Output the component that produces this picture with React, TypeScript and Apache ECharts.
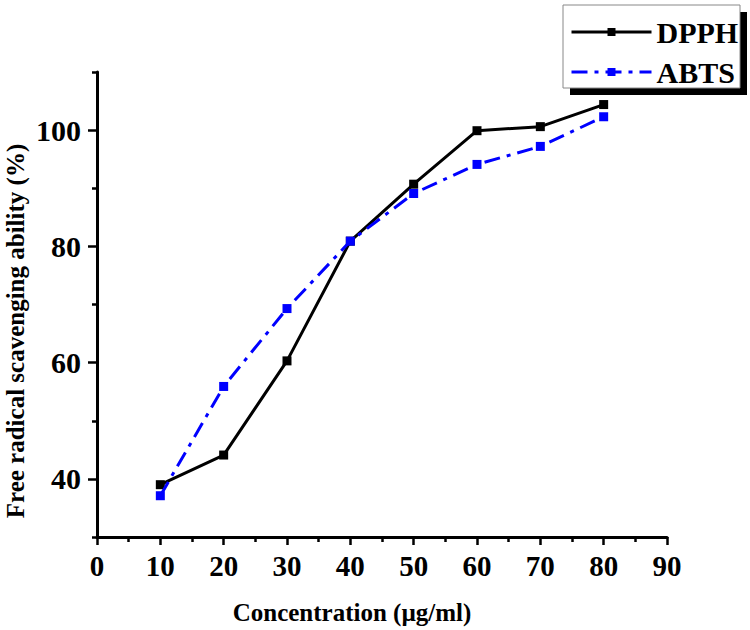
import React, { useEffect, useRef } from "react";
import * as echarts from "echarts";

const concentrations = [10, 20, 30, 40, 50, 60, 70, 80];
const dpphValues = [39.0, 44.1, 60.3, 80.9, 90.7, 99.9, 100.6, 104.4];
const abtsValues = [37.1, 55.9, 69.3, 80.9, 89.1, 94.1, 97.2, 102.3];
const yMajorTicks = [40, 60, 80, 100];
const yMinorTicks = [30, 50, 70, 90, 110];
const xTitle = "Concentration (µg/ml)";
const yTitle = "Free radical scavenging ability (%)";

const FONT = "'Liberation Serif', 'DejaVu Serif', serif";

export default function App() {
  const ref = useRef<HTMLDivElement>(null);
  useEffect(() => {
    document.body.style.margin = "0";
    if (!ref.current) return;
    const chart = echarts.init(ref.current, null, { renderer: "svg" });
    const toPairs = (ys: number[]) => concentrations.map((x, i) => [x, ys[i]]);
    chart.setOption({
      animation: false,
      backgroundColor: "#fff",
      grid: { left: 97, right: 83, top: 72, bottom: 93, containLabel: false },
      xAxis: {
        type: "value",
        min: 0,
        max: 90,
        interval: 10,
        axisLine: { show: true, lineStyle: { color: "#000", width: 3 } },
        axisTick: { show: true, length: 8, lineStyle: { color: "#000", width: 2.5 } },
        minorTick: { show: true, splitNumber: 2, length: 5, lineStyle: { color: "#000", width: 2.5 } },
        splitLine: { show: false },
        axisLabel: {
          color: "#000",
          fontFamily: FONT,
          fontWeight: "bold",
          fontSize: 29,
          margin: 14,
        },
      },
      yAxis: [
        {
          type: "value",
          min: 30,
          max: 110,
          interval: 10,
          position: "left",
          axisLine: { show: true, lineStyle: { color: "#000", width: 3 } },
          axisTick: { show: true, length: 5, customValues: yMinorTicks, lineStyle: { color: "#000", width: 2.5 } },
          splitLine: { show: false },
          axisLabel: { show: false },
        },
        {
          type: "value",
          min: 30,
          max: 110,
          interval: 10,
          position: "left",
          offset: 0,
          axisLine: { show: false },
          axisTick: { show: true, length: 9, customValues: yMajorTicks, lineStyle: { color: "#000", width: 2.5 } },
          splitLine: { show: false },
          axisLabel: {
            show: true,
            customValues: yMajorTicks,
            color: "#000",
            fontFamily: FONT,
            fontWeight: "bold",
            fontSize: 30,
            margin: 16,
          },
        },
      ],
      legend: {
        orient: "vertical",
        left: 565,
        top: 11,
        itemWidth: 80,
        itemHeight: 10,
        itemGap: 8,
        z: 10,
        lineStyle: { width: 3 },
        textStyle: {
          color: "#000",
          fontFamily: FONT,
          fontWeight: "bold",
          fontSize: 30,
          lineHeight: 32,
        },
        data: ["DPPH", "ABTS"],
      },
      graphic: [
        {
          type: "rect",
          z: 1,
          shape: { x: 570, y: 12, width: 177, height: 83 },
          style: { fill: "#000" },
        },
        {
          type: "rect",
          z: 2,
          shape: { x: 563, y: 5, width: 177, height: 83 },
          style: { fill: "#fff", stroke: "#888", lineWidth: 1 },
        },
        {
          type: "text",
          x: 352,
          y: 612,
          style: {
            text: xTitle,
            fill: "#000",
            font: `bold 25px ${FONT}`,
            align: "center",
            verticalAlign: "middle",
          },
        },
        {
          type: "text",
          x: 15,
          y: 331,
          rotation: Math.PI / 2,
          style: {
            text: yTitle,
            fill: "#000",
            font: `bold 25px ${FONT}`,
            align: "center",
            verticalAlign: "middle",
          },
        },
      ],
      series: [
        {
          name: "DPPH",
          type: "line",
          yAxisIndex: 0,
          data: toPairs(dpphValues),
          symbol: "rect",
          symbolSize: 9,
          itemStyle: { color: "#000" },
          lineStyle: { color: "#000", width: 3, type: "solid" },
          z: 3,
        },
        {
          name: "ABTS",
          type: "line",
          yAxisIndex: 0,
          data: toPairs(abtsValues),
          symbol: "rect",
          symbolSize: 9,
          itemStyle: { color: "#0000ff" },
          lineStyle: { color: "#0000ff", width: 3, type: [16, 7, 4, 7] },
          z: 4,
        },
      ],
    });
    return () => chart.dispose();
  }, []);
  return <div ref={ref} style={{ width: 750, height: 630 }} />;
}
